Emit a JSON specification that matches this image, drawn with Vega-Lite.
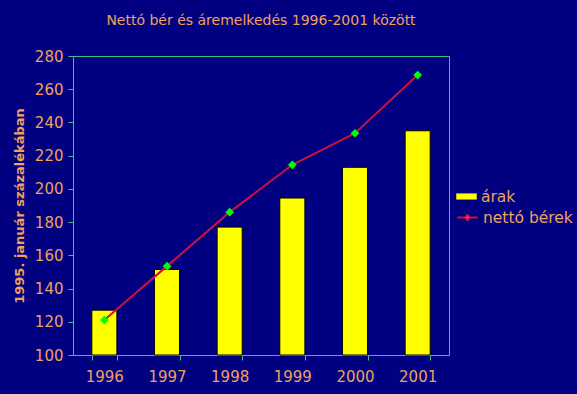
{
  "$schema": "https://vega.github.io/schema/vega-lite/v6.json",
  "width": 376,
  "height": 299,
  "autosize": "none",
  "padding": {"left": 73, "top": 56, "right": 128, "bottom": 39},
  "background": "#000080",
  "title": {
    "text": "Nettó bér és áremelkedés 1996-2001 között",
    "font": "DejaVu Sans",
    "fontSize": 14,
    "fontWeight": "normal",
    "color": "#f0a060",
    "anchor": "middle",
    "offset": 21
  },
  "config": {
    "view": {"stroke": "#40c090", "strokeWidth": 1, "fill": "#000080"},
    "axis": {
      "labelFont": "DejaVu Sans",
      "labelFontSize": 15,
      "labelColor": "#f0a060",
      "labelOverlap": false,
      "titleFont": "DejaVu Sans",
      "titleColor": "#f0a060",
      "domainColor": "#40c090",
      "tickColor": "#40c090",
      "tickSize": 5,
      "grid": false
    },
    "legend": {
      "labelFont": "DejaVu Sans",
      "labelFontSize": 15.5,
      "labelColor": "#f0a060",
      "title": null
    }
  },
  "data": {
    "values": [
      {"year": "1996", "arak": 127, "berek": 121},
      {"year": "1997", "arak": 151.5, "berek": 153.5},
      {"year": "1998", "arak": 177, "berek": 186},
      {"year": "1999", "arak": 194.5, "berek": 214.5},
      {"year": "2000", "arak": 213, "berek": 233.5},
      {"year": "2001", "arak": 235, "berek": 268.5}
    ]
  },
  "encoding": {
    "x": {
      "field": "year",
      "type": "ordinal",
      "scale": {"paddingInner": 0.6, "paddingOuter": 0.3},
      "axis": {
        "title": null,
        "labelAngle": 0,
        "tickBand": "extent",
        "labelPadding": 9
      }
    }
  },
  "layer": [
    {
      "mark": {"type": "bar", "stroke": "#000000", "strokeWidth": 1},
      "encoding": {
        "y": {
          "field": "arak",
          "type": "quantitative",
          "scale": {"domain": [100, 280], "zero": false, "nice": false},
          "axis": {
            "title": "1995. január százalékában",
            "titleFontWeight": "bold",
            "titleFontSize": 13,
            "titlePadding": 8,
            "values": [100, 120, 140, 160, 180, 200, 220, 240, 260, 280],
            "labelOverlap": false,
            "labelPadding": 5
          }
        },
        "y2": {"datum": 100},
        "fill": {
          "datum": "árak",
          "type": "nominal",
          "scale": {"range": ["#ffff00"]},
          "legend": {
            "orient": "none",
            "legendX": 383,
            "legendY": 130,
            "symbolType": "M-1,-0.3H1V0.3H-1Z",
            "symbolSize": 420,
            "symbolStrokeWidth": 0
          }
        }
      }
    },
    {
      "mark": {"type": "line", "strokeWidth": 2},
      "encoding": {
        "y": {
          "field": "berek",
          "type": "quantitative",
          "scale": {"domain": [100, 280], "zero": false, "nice": false},
          "axis": {
            "title": "1995. január százalékában",
            "titleFontWeight": "bold",
            "titleFontSize": 13,
            "titlePadding": 8,
            "values": [100, 120, 140, 160, 180, 200, 220, 240, 260, 280],
            "labelOverlap": false,
            "labelPadding": 5
          }
        },
        "stroke": {
          "datum": "nettó bérek",
          "type": "nominal",
          "scale": {"range": ["#cc1040"]},
          "legend": {
            "orient": "none",
            "legendX": 383,
            "legendY": 150,
            "symbolType": "M-1,0H-0.25L0,-0.25L0.25,0L0,0.25L-0.25,0ZM0.25,0H1",
            "symbolSize": 420,
            "symbolFillColor": "#00ff00",
            "symbolStrokeWidth": 2
          }
        }
      }
    },
    {
      "mark": {"type": "point", "shape": "diamond", "filled": true, "color": "#00ff00", "size": 75, "opacity": 1},
      "encoding": {
        "y": {
          "field": "berek",
          "type": "quantitative",
          "scale": {"domain": [100, 280], "zero": false, "nice": false},
          "axis": {
            "title": "1995. január százalékában",
            "titleFontWeight": "bold",
            "titleFontSize": 13,
            "titlePadding": 8,
            "values": [100, 120, 140, 160, 180, 200, 220, 240, 260, 280],
            "labelOverlap": false,
            "labelPadding": 5
          }
        }
      }
    }
  ]
}
